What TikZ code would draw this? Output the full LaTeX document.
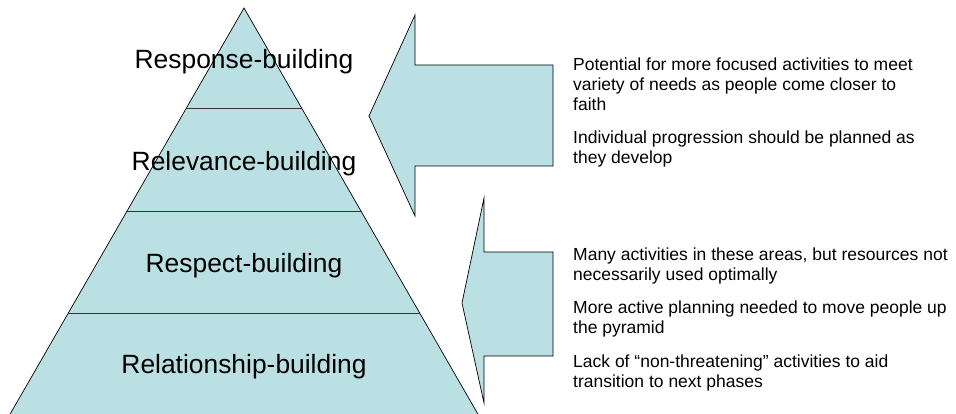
\documentclass[tikz,border=0pt]{standalone}
\usepackage{fontspec}
\setmainfont{Liberation Sans}
\usetikzlibrary{calc}
\definecolor{tierfill}{HTML}{BBE0E3}
\begin{document}
\begin{tikzpicture}[x=1pt,y=-1pt,
  outline/.style={draw=black, line width=0.7pt, fill=tierfill, line join=miter},
  divider/.style={draw=black!80, line width=0.8pt},
  tierlabel/.style={font=\fontsize{26.4}{30}\selectfont, inner sep=0pt},
  note/.style={font=\fontsize{17.5}{20}\selectfont, align=left, anchor=north west, inner sep=0pt}]
\clip (0,0) rectangle (956,414);
\fill[white] (0,0) rectangle (956,414);

% pyramid
\coordinate (apex) at (244,8);
\coordinate (bl) at (4.4,424);
\coordinate (br) at (483.6,424);
\path[outline] (apex) -- (bl) -- (br) -- cycle;
\draw[divider] ($(apex)!0.2404!(bl)$) -- ($(apex)!0.2404!(br)$);
\draw[divider] ($(apex)!0.4880!(bl)$) -- ($(apex)!0.4880!(br)$);
\draw[divider] ($(apex)!0.7332!(bl)$) -- ($(apex)!0.7332!(br)$);

\node[tierlabel] (response) at (244,62) {Response-building};
\node[tierlabel] (relevance) at (244,164) {Relevance-building};
\node[tierlabel] (respect) at (244,266) {Respect-building};
\node[tierlabel] (relationship) at (244,367) {Relationship-building};

% block arrows pointing at the pyramid
\path[outline] (553,65) -- (415,65) -- (415,15) -- (369,116) -- (415,216)
  -- (415,166) -- (553,166) -- cycle;
\path[outline] (553,252) -- (484,252) -- (484,198) -- (462,303) -- (484,403)
  -- (484,356) -- (553,356) -- cycle;

% notes
\node[note] (upperA) at (573,58) {Potential for more focused activities to meet\\variety of needs as people come closer to\\faith};
\node[note] (upperB) at (573,131) {Individual progression should be planned as\\they develop};
\node[note] (lowerA) at (573,248) {Many activities in these areas, but resources not\\necessarily used optimally};
\node[note] (lowerB) at (573,301) {More active planning needed to move people up\\the pyramid};
\node[note] (lowerC) at (573,355) {Lack of “non-threatening” activities to aid\\transition to next phases};
\end{tikzpicture}
\end{document}
